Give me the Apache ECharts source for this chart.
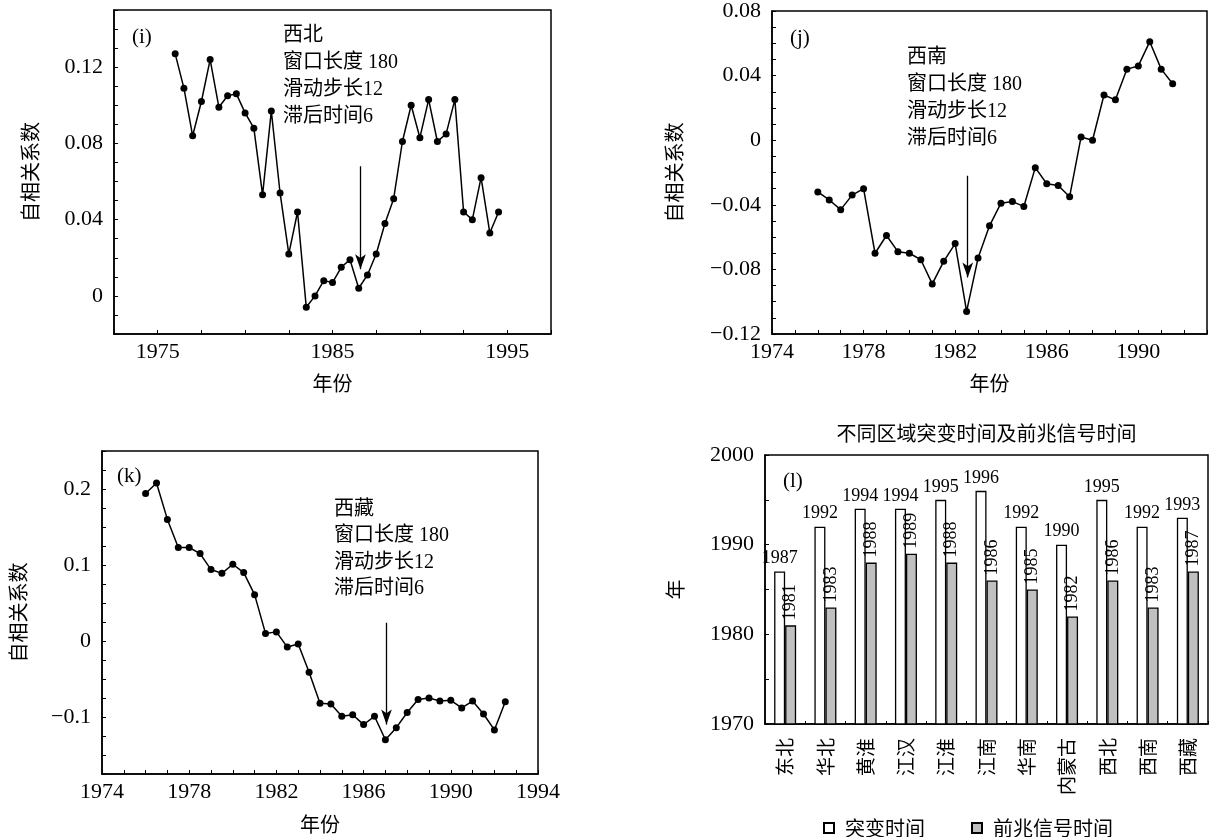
<!DOCTYPE html>
<html><head><meta charset="utf-8">
<script src="https://cdn.jsdelivr.net/npm/echarts@6/dist/echarts.min.js"></script>
<style>html,body{margin:0;padding:0;background:#fff}#c{width:1214px;height:837px}</style>
</head><body><div id="c"></div>
<script>
// ---------- data ----------
const yearsI = [1976,1976.5,1977,1977.5,1978,1978.5,1979,1979.5,1980,1980.5,1981,1981.5,1982,1982.5,1983,1983.5,1984,1984.5,1985,1985.5,1986,1986.5,1987,1987.5,1988,1988.5,1989,1989.5,1990,1990.5,1991,1991.5,1992,1992.5,1993,1993.5,1994,1994.5];
const valsI = [0.127,0.109,0.084,0.102,0.124,0.099,0.105,0.106,0.096,0.088,0.053,0.097,0.054,0.022,0.044,-0.006,0.000,0.008,0.007,0.015,0.019,0.004,0.011,0.022,0.038,0.051,0.081,0.100,0.083,0.103,0.081,0.085,0.103,0.044,0.040,0.062,0.033,0.044];
const yearsJ = [1976,1976.5,1977,1977.5,1978,1978.5,1979,1979.5,1980,1980.5,1981,1981.5,1982,1982.5,1983,1983.5,1984,1984.5,1985,1985.5,1986,1986.5,1987,1987.5,1988,1988.5,1989,1989.5,1990,1990.5,1991,1991.5];
const valsJ = [-0.032,-0.037,-0.043,-0.034,-0.030,-0.070,-0.059,-0.069,-0.070,-0.074,-0.089,-0.075,-0.064,-0.106,-0.073,-0.053,-0.039,-0.038,-0.041,-0.017,-0.027,-0.028,-0.035,0.002,0.000,0.028,0.025,0.044,0.046,0.061,0.044,0.035];
const yearsK = [1976,1976.5,1977,1977.5,1978,1978.5,1979,1979.5,1980,1980.5,1981,1981.5,1982,1982.5,1983,1983.5,1984,1984.5,1985,1985.5,1986,1986.5,1987,1987.5,1988,1988.5,1989,1989.5,1990,1990.5,1991,1991.5,1992,1992.5];
const valsK = [0.194,0.208,0.160,0.123,0.123,0.115,0.094,0.089,0.101,0.090,0.061,0.010,0.012,-0.008,-0.004,-0.041,-0.082,-0.083,-0.099,-0.097,-0.110,-0.099,-0.130,-0.114,-0.094,-0.077,-0.075,-0.079,-0.078,-0.088,-0.079,-0.096,-0.117,-0.080];
// arrows: [year, start value, tip value]
const arrowI = [1986.6, 0.068, 0.014];
const arrowJ = [1982.55, -0.022, -0.085];
const arrowK = [1987.05, 0.024, -0.110];
const regions = ['东北','华北','黄淮','江汉','江淮','江南','华南','内蒙古','西北','西南','西藏'];
const abruptYear = [1987,1992,1994,1994,1995,1996,1992,1990,1995,1992,1993];
const precursorYear = [1981,1983,1988,1989,1988,1986,1985,1982,1986,1983,1987];
const annoI = '西北\n窗口长度 180\n滑动步长12\n滞后时间6';
const annoJ = '西南\n窗口长度 180\n滑动步长12\n滞后时间6';
const annoK = '西藏\n窗口长度 180\n滑动步长12\n滞后时间6';
const barTitle = '不同区域突变时间及前兆信号时间';

// ---------- helpers ----------
const SERIF = "'Liberation Serif','Noto Sans CJK SC',serif";
const CJK = "'Noto Sans CJK SC',sans-serif";
function fmtVal(step, dec) {
  return function (v) {
    const k = v / step;
    if (Math.abs(k - Math.round(k)) > 1e-6) return '';
    if (Math.abs(v) < 1e-9) return '0';
    return (v < 0 ? '\u2212' : '') + Math.abs(v).toFixed(dec);
  };
}
function fmtYear(base, step) {
  return function (v) {
    const d = Math.round((v - base) * 1000) / 1000;
    return (d % step === 0) ? String(Math.round(v)) : '';
  };
}
const tick = {show: true, inside: true, length: 4, lineStyle: {color: '#000', width: 1}};
const aline = {show: true, onZero: false, lineStyle: {color: '#000', width: 1.5}};
function xVal(grid, min, max, interval, fmt) {
  return {type: 'value', gridIndex: grid, min: min, max: max, interval: interval,
    axisLine: aline, axisTick: tick, splitLine: {show: false},
    axisLabel: {formatter: fmt, color: '#000', fontFamily: SERIF, fontSize: 22, margin: 7},
    name: '年份', nameLocation: 'middle', nameGap: 39,
    nameTextStyle: {fontFamily: CJK, fontSize: 20, color: '#000'}};
}
function yVal(grid, min, max, interval, fmt, gap, name) {
  return {type: 'value', gridIndex: grid, min: min, max: max, interval: interval,
    axisLine: aline, axisTick: tick, splitLine: {show: false},
    axisLabel: {formatter: fmt, color: '#000', fontFamily: SERIF, fontSize: 22, margin: 11},
    name: name, nameLocation: 'middle', nameGap: gap,
    nameTextStyle: {fontFamily: CJK, fontSize: 20, color: '#000'}};
}
function lineSeries(idx, years, vals, arrow) {
  return {type: 'line', xAxisIndex: idx, yAxisIndex: idx,
    data: years.map((y, i) => [y, vals[i]]),
    symbol: 'circle', symbolSize: 7, showSymbol: true,
    lineStyle: {color: '#000', width: 1.5}, itemStyle: {color: '#000'},
    animation: false, silent: true,
    markLine: {silent: true, animation: false, symbol: ['none', 'arrow'], symbolSize: [8, 15],
      lineStyle: {color: '#000', width: 1.3, type: 'solid'}, label: {show: false},
      data: [[{coord: [arrow[0], arrow[1]]}, {coord: [arrow[0], arrow[2]]}]]}};
}
function txt(x, y, text, size, lh, family) {
  return {type: 'text', x: x, y: y, silent: true,
    style: {text: text, fill: '#000', fontSize: size, fontFamily: family || SERIF,
      lineHeight: lh || size, align: 'left', verticalAlign: 'top'}};
}

const grids = [
  {left: 114, top: 10, width: 437, height: 324},
  {left: 772, top: 10, width: 435, height: 324},
  {left: 102, top: 451, width: 436, height: 323},
  {left: 765, top: 455, width: 443, height: 269}
].map(g => Object.assign(g, {show: true, borderColor: '#000', borderWidth: 1.5, backgroundColor: 'transparent'}));

const option = {
  animation: false,
  backgroundColor: '#fff',
  textStyle: {fontFamily: SERIF, color: '#000'},
  grid: grids,
  xAxis: [
    xVal(0, 1972.5, 1997.5, 2.5, fmtYear(1975, 10)),
    xVal(1, 1974, 1993, 1, fmtYear(1974, 4)),
    Object.assign(xVal(2, 1974, 1994, 1, fmtYear(1974, 4)), {nameGap: 40}),
    {type: 'category', gridIndex: 3, data: regions,
      axisLine: aline, axisTick: {show: true, inside: true, length: 3, lineStyle: {color: '#000', width: 1}},
      axisLabel: {rotate: 90, interval: 0, color: '#000', fontFamily: CJK, fontSize: 19, margin: 14}}
  ],
  yAxis: [
    yVal(0, -0.02, 0.15, 0.01, fmtVal(0.04, 2), 74, '自相关系数'),
    yVal(1, -0.12, 0.08, 0.01, fmtVal(0.04, 2), 88, '自相关系数'),
    yVal(2, -0.175, 0.25, 0.025, fmtVal(0.1, 1), 74, '自相关系数'),
    yVal(3, 1970, 2000, 5, fmtVal(10, 0), 80, '年')
  ],
  legend: {left: 818, top: 813, itemWidth: 10, itemHeight: 10, itemGap: 46, icon: 'rect',
    textStyle: {fontFamily: CJK, fontSize: 20, color: '#000', padding: [0, 0, 0, 6]},
    data: ['突变时间', '前兆信号时间']},
  series: [
    lineSeries(0, yearsI, valsI, arrowI),
    lineSeries(1, yearsJ, valsJ, arrowJ),
    lineSeries(2, yearsK, valsK, arrowK),
    {name: '突变时间', type: 'bar', xAxisIndex: 3, yAxisIndex: 3, data: abruptYear,
      barWidth: 11, barGap: '0%',
      itemStyle: {color: '#fff', borderColor: '#000', borderWidth: 1.3},
      label: {show: true, position: 'top', distance: 4, color: '#000', fontFamily: SERIF, fontSize: 18}},
    {name: '前兆信号时间', type: 'bar', xAxisIndex: 3, yAxisIndex: 3, data: precursorYear,
      barWidth: 11, barGap: '0%',
      itemStyle: {color: '#c0c0c0', borderColor: '#000', borderWidth: 1.3},
      label: {show: true, position: 'top', distance: 5, rotate: 90, align: 'left', verticalAlign: 'middle',
        color: '#000', fontFamily: SERIF, fontSize: 18}}
  ],
  graphic: [
    txt(132, 27, '(i)', 21),
    txt(283, 22, annoI, 20, 27),
    txt(790, 28, '(j)', 21),
    txt(907, 44, annoJ, 20, 27),
    txt(117, 466, '(k)', 21),
    txt(334, 496, annoK, 20, 26.5),
    txt(783, 471, '(l)', 21),
    {type: 'text', x: 986.5, y: 433, silent: true,
      style: {text: barTitle, fill: '#000', fontSize: 20, fontFamily: CJK, align: 'center', verticalAlign: 'middle'}}
  ]
};
const chart = echarts.init(document.getElementById('c'), null, {renderer: 'canvas'});
chart.setOption(option);
</script>
</body></html>
